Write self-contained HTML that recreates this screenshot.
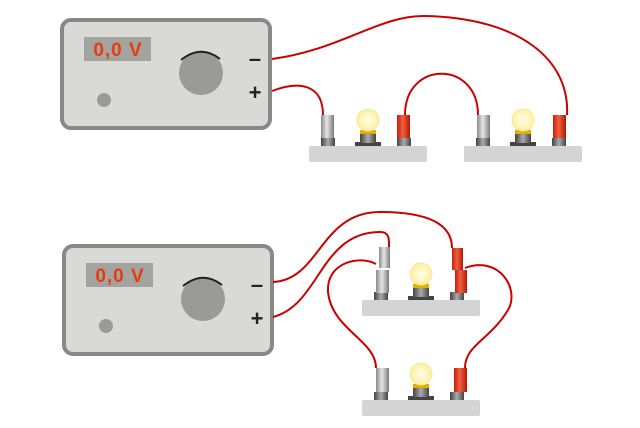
<!DOCTYPE html>
<html><head><meta charset="utf-8"><style>
html,body{margin:0;padding:0;background:#fff;width:640px;height:428px;overflow:hidden}
svg{display:block}
</style></head><body>
<svg width="640" height="428" viewBox="0 0 640 428" xmlns="http://www.w3.org/2000/svg">
<defs>
<linearGradient id="gg" x1="0" x2="1"><stop offset="0" stop-color="#8a8a8a"/><stop offset="0.45" stop-color="#e6e6e6"/><stop offset="1" stop-color="#7a7a7a"/></linearGradient>
<linearGradient id="rg" x1="0" x2="1"><stop offset="0" stop-color="#c81e10"/><stop offset="0.45" stop-color="#f06040"/><stop offset="1" stop-color="#b01808"/></linearGradient>
<linearGradient id="dg" x1="0" x2="1"><stop offset="0" stop-color="#444"/><stop offset="0.5" stop-color="#aaa"/><stop offset="1" stop-color="#444"/></linearGradient>
<radialGradient id="bg"><stop offset="0" stop-color="#fffde8"/><stop offset="1" stop-color="#fdf0a0"/></radialGradient>
<g id="psu">
<rect x="0" y="0" width="208" height="108" rx="9" fill="#d9d9d5" stroke="#888" stroke-width="4"/>
<rect x="22" y="17" width="67" height="24" fill="#a3a39f"/>
<text x="56" y="36" text-anchor="middle" font-family="Liberation Sans, sans-serif" font-weight="bold" font-size="19" letter-spacing="1" fill="#e83a10">0,0 V</text>
<circle cx="139" cy="53" r="22" fill="#9a9a96"/>
<path d="M119 40 Q139 24 158 39" fill="none" stroke="#222" stroke-width="2"/>
<circle cx="42" cy="80" r="7" fill="#9a9a96"/>
<text x="193" y="46" text-anchor="middle" font-family="Liberation Sans, sans-serif" font-weight="bold" font-size="22" fill="#222">–</text>
<text x="193" y="80" text-anchor="middle" font-family="Liberation Sans, sans-serif" font-weight="bold" font-size="22" fill="#222">+</text>
</g>
<g id="board">
<rect x="0" y="31" width="118" height="16" rx="2" fill="#d4d4d4"/>
<rect x="12" y="23" width="14" height="8" fill="url(#dg)"/>
<rect x="88" y="23" width="14" height="8" fill="url(#dg)"/>
<rect x="46" y="27" width="26" height="4" fill="#444"/>
<rect x="51" y="19" width="16" height="9" fill="url(#dg)"/>
<rect x="51" y="15" width="16" height="4" fill="#e0b000"/>
<circle cx="59" cy="5" r="11" fill="url(#bg)" stroke="#f5e8a0"/>
</g>
</defs>
<use href="#psu" x="62" y="20"/>
<use href="#psu" x="64" y="246"/>
<use href="#board" x="309" y="115"/>
<rect x="321" y="115" width="13" height="23" fill="url(#gg)"/>
<rect x="397" y="115" width="13" height="23" fill="url(#rg)"/>
<use href="#board" x="464" y="115"/>
<rect x="477" y="115" width="13" height="23" fill="url(#gg)"/>
<rect x="553" y="115" width="13" height="23" fill="url(#rg)"/>
<use href="#board" x="362" y="269"/>
<rect x="376" y="270" width="13" height="23" fill="url(#gg)"/>
<rect x="379" y="247" width="11" height="21" fill="url(#gg)"/>
<rect x="455" y="270" width="12" height="23" fill="url(#rg)"/>
<rect x="452" y="248" width="11" height="22" fill="url(#rg)"/>
<use href="#board" x="362" y="369"/>
<rect x="376" y="368" width="13" height="24" fill="url(#gg)"/>
<rect x="454" y="368" width="13" height="24" fill="url(#rg)"/>
<g fill="none" stroke="#cc0000" stroke-width="2">
<path d="M272 59 C340 50 380 15 425 16 C520 18 570 60 567 115"/>
<path d="M272 91 C300 80 323 85 323 115"/>
<path d="M405 115 C405 60 478 60 478 115"/>
<path d="M273 282 C320 280 320 212 380 212 C430 212 452 225 452 248"/>
<path d="M273 317 C320 305 320 232 380 232 C390 232 389 240 389 247"/>
<path d="M376 264 C360 255 326 262 328 292 C332 330 376 340 376 368"/>
<path d="M465 268 C500 255 520 290 508 310 C490 340 465 345 465 368"/>
</g>
</svg>
</body></html>
